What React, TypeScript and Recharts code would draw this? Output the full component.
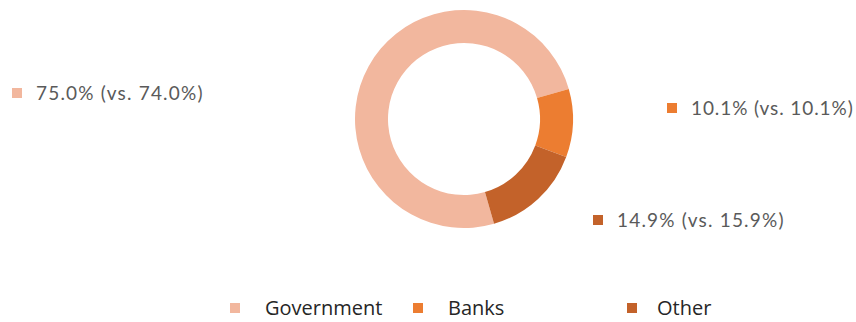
import React from 'react';
import { PieChart, Pie, Cell, Legend } from 'recharts';

const categories = ['Government', 'Banks', 'Other'];
const shares = [75.0, 10.1, 14.9];
const priorShares = [74.0, 10.1, 15.9];
const colors = ['#F2B79E', '#EC7D31', '#C3622A'];

const data = categories.map((name, i) => ({ name, value: shares[i], prior: priorShares[i] }));

// label anchor positions (layout only)
const labelPos = [
  { x: 12, y: 93 },
  { x: 667, y: 108 },
  { x: 593, y: 220 },
];
const legendX = [230, 413, 627];

const renderLabel = (props: any) => {
  const i = props.index;
  const p = labelPos[i];
  const d = data[i];
  return (
    <g key={`lbl-${i}`}>
      <rect x={p.x} y={p.y - 5} width={10} height={10} fill={colors[i]} />
      <text
        x={p.x + 24}
        y={p.y + 7}
        fontFamily="Lato"
        fontSize={19}
        letterSpacing={i === 1 ? 0.9 : 1.2}
        fill="#5A5A5A"
        textAnchor="start"
      >
        {`${d.value.toFixed(1)}% (vs. ${d.prior.toFixed(1)}%)`}
      </text>
    </g>
  );
};

const renderLegend = () => (
  <div style={{ position: 'relative', width: 856, height: 30 }}>
    {categories.map((c, i) => (
      <div
        key={c}
        style={{
          position: 'absolute',
          left: legendX[i],
          top: 0,
          display: 'flex',
          alignItems: 'center',
          fontFamily: 'Open Sans',
          fontSize: 20,
          color: '#262626',
          lineHeight: '28px',
          whiteSpace: 'nowrap',
        }}
      >
        <span style={{ display: 'inline-block', width: 10, height: 10, background: colors[i], marginRight: i === 2 ? 20 : 25 }} />
        <span>{c}</span>
      </div>
    ))}
  </div>
);

export default function App() {
  return (
    <div style={{ position: 'absolute', left: 0, top: 0, background: '#fff' }}>
      <PieChart width={856} height={322} margin={{ top: 0, right: 0, bottom: 0, left: 0 }}>
        <Pie
          data={data}
          dataKey="value"
          nameKey="name"
          cx={464}
          cy={119}
          innerRadius={76}
          outerRadius={109}
          startAngle={-74}
          endAngle={-434}
          stroke="none"
          label={renderLabel}
          labelLine={false}
          isAnimationActive={false}
        >
          {data.map((d, i) => (
            <Cell key={d.name} fill={colors[i]} />
          ))}
        </Pie>
        <Legend
          content={renderLegend}
          wrapperStyle={{ position: 'absolute', left: 0, top: 294, width: 856, height: 30 }}
        />
      </PieChart>
    </div>
  );
}
